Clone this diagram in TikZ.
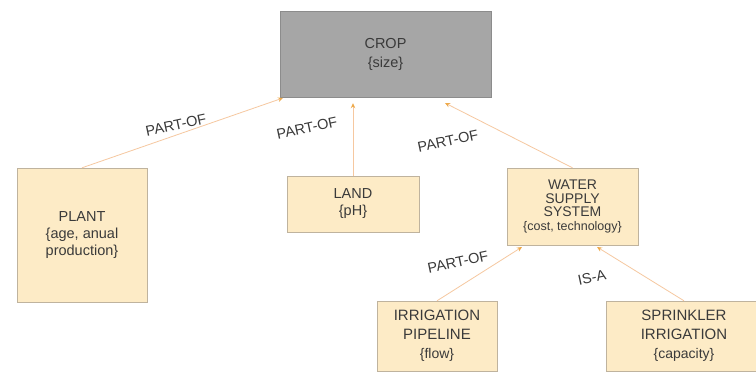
\documentclass[tikz,border=0pt]{standalone}
\usepackage{fontspec}
\setmainfont{Liberation Sans}
\usetikzlibrary{arrows.meta}
\definecolor{boxfill}{HTML}{FDEBC6}
\definecolor{boxline}{HTML}{BFB39E}
\definecolor{cropfill}{HTML}{A6A6A6}
\definecolor{cropline}{HTML}{8C8C8C}
\definecolor{linkcol}{HTML}{F6C8A0}
\definecolor{tipcol}{HTML}{EEAA4C}
\definecolor{txt}{HTML}{3A3A3A}
\begin{document}
\begin{tikzpicture}[x=1pt,y=-1pt,
    box/.style={draw=boxline, fill=boxfill, text=txt, align=center, inner sep=2pt,
        font=\fontsize{14.5}{17}\selectfont},
    cropbox/.style={draw=cropline, fill=cropfill, text=txt, align=center,
        font=\fontsize{14.5}{19}\selectfont},
    conn/.style={draw=linkcol, line width=0.8pt, -{Stealth[length=5pt,width=4.5pt,color=tipcol]}},
    rel/.style={text=txt, font=\fontsize{14.5}{17}\selectfont, rotate=12}]
        \useasboundingbox (0,0) rectangle (756,372);
        \fill[white] (0,0) rectangle (756,372);
        \node[cropbox, minimum width=211pt, minimum height=86pt] (crop) at (385.5,54) {CROP\\\{size\}};
        \node[box, minimum width=130pt, minimum height=134pt] (plant) at (82,235) {PLANT\\\{age, anual\\production\}};
        \node[box, minimum width=132pt, minimum height=56pt] (land) at (353,204) {LAND\\\{pH\}};
        \node[box, minimum width=131pt, minimum height=77pt, font=\fontsize{14}{13.4}\selectfont] (water) at (572.5,206.5)
            {WATER\\SUPPLY\\SYSTEM\\{\fontsize{12.5}{13}\selectfont\{cost, technology\}}};
        \node[box, minimum width=120pt, minimum height=70pt, font=\fontsize{15}{19}\selectfont] (pipe) at (437,336) {IRRIGATION\\PIPELINE\\{\fontsize{14}{17}\selectfont\{flow\}}};
        \node[box, minimum width=156pt, minimum height=70pt, font=\fontsize{15}{19}\selectfont] (sprink) at (684,336) {SPRINKLER\\IRRIGATION\\{\fontsize{14}{17}\selectfont\{capacity\}}};
        \coordinate (cropL) at (283,98);
        \coordinate (cropR) at (445,103);
        \coordinate (waterL) at (522,247);
        \coordinate (waterR) at (597,247);
        \draw[conn] (plant.north) -- (cropL);
        \draw[conn, shorten >=6pt] (land.north) -- (land.north |- crop.south);
        \draw[conn] (water.north) -- (cropR);
        \draw[conn] (pipe.north) -- (waterL);
        \draw[conn] (sprink.north) -- (waterR);
        \node[rel] (r1) at (176,125) {PART-OF};
        \node[rel] (r2) at (307,128) {PART-OF};
        \node[rel] (r3) at (448,141) {PART-OF};
        \node[rel] (r4) at (458,262) {PART-OF};
        \node[rel] (r5) at (592,278) {IS-A};
\end{tikzpicture}
\end{document}
